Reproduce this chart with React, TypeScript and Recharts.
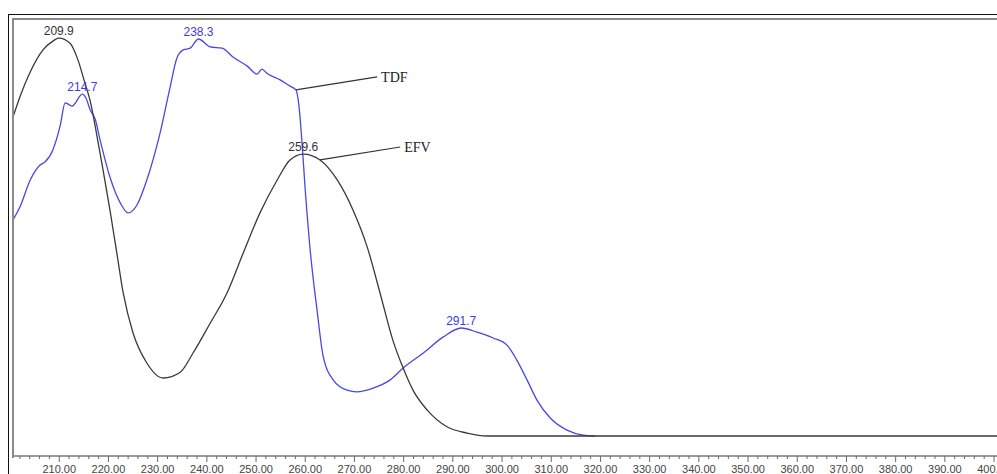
import { LineChart, Line, XAxis, YAxis, ReferenceDot, ReferenceLine } from "recharts"

// EFV spectrum (black trace): wavelength in nm, absorbance
const efvWl = [
  200.6, 202.0, 204.1, 206.7, 208.7, 209.9, 212.2, 213.8, 215.2, 216.3, 217.7, 218.9, 220.3, 221.7,
  223.0, 225.0, 227.8, 231.1, 234.6, 237.2, 240.7, 244.1, 247.4, 250.8, 254.3, 256.9, 259.6, 263.0,
  266.5, 269.7, 272.6, 275.2, 277.8, 279.9, 281.9, 284.8, 288.8, 292.9, 297.0, 320.0, 401.0,
]
const efvAbs = [
  0.765, 0.813, 0.873, 0.926, 0.947, 0.954, 0.942, 0.902, 0.847, 0.803, 0.717, 0.638, 0.542, 0.439,
  0.343, 0.247, 0.175, 0.139, 0.153, 0.199, 0.271, 0.343, 0.439, 0.535, 0.614, 0.662, 0.676, 0.662,
  0.614, 0.542, 0.453, 0.343, 0.23, 0.163, 0.11, 0.062, 0.022, 0.007, 0.0, 0.0, 0.0,
]

// TDF spectrum (blue trace)
const tdfWl = [
  200.6, 202.0, 204.1, 206.1, 207.1, 208.7, 210.2, 211.2, 211.8, 212.6, 214.7, 215.4, 216.3, 217.3,
  218.3, 220.3, 222.4, 224.0, 225.8, 227.8, 230.5, 232.5, 233.9, 235.2, 236.6, 238.3, 240.7, 243.1,
  245.3, 248.2, 250.2, 251.2, 252.2, 254.9, 256.9, 258.1, 258.7, 259.3, 260.0, 261.0, 262.4, 263.6,
  265.7, 268.5, 270.5, 273.8, 277.2, 279.9, 284.0, 288.0, 291.7, 294.9, 298.2, 301.0, 303.0, 305.1,
  307.1, 309.8, 313.2, 316.5, 318.9,
]
const tdfAbs = [
  0.518, 0.549, 0.614, 0.65, 0.657, 0.686, 0.745, 0.799, 0.796, 0.791, 0.82, 0.811, 0.782, 0.76,
  0.71, 0.621, 0.559, 0.535, 0.554, 0.614, 0.727, 0.835, 0.906, 0.926, 0.93, 0.952, 0.933, 0.93,
  0.909, 0.887, 0.868, 0.88, 0.87, 0.854, 0.839, 0.83, 0.794, 0.71, 0.59, 0.446, 0.302, 0.194,
  0.134, 0.11, 0.106, 0.115, 0.134, 0.163, 0.199, 0.237, 0.259, 0.249, 0.235, 0.218, 0.182, 0.134,
  0.086, 0.043, 0.014, 0.002, 0.0,
]

// labelled x-axis ticks (nm)
const tickLabels = [
  210, 220, 230, 240, 250, 260, 270, 280, 290, 300, 310, 320, 330, 340, 350, 360, 370, 380, 390, 400,
]

// peak maxima annotated above each trace
const peakLabels = [
  { series: "EFV", wl: 209.9 },
  { series: "TDF", wl: 214.7 },
  { series: "TDF", wl: 238.3 },
  { series: "EFV", wl: 259.6 },
  { series: "TDF", wl: 291.7 },
]

// leader lines naming each trace
const leaders = [
  { name: "TDF", from: [258.1, 0.83], to: [274.6, 0.861] },
  { name: "EFV", from: [263.0, 0.662], to: [279.3, 0.693] },
]

const BLACK = "#3a3a3a"
const BLUE = "#4848e4"

const efv = efvWl.map((wl, i) => ({ wl, a: efvAbs[i] }))
const tdf = tdfWl.map((wl, i) => ({ wl, a: tdfAbs[i] }))

// minor ticks every 2 nm, major ones carry the label
const allTicks: number[] = []
for (let t = 202; t <= 400; t += 2) allTicks.push(t)

function AxisTick({ x, y, payload }: any) {
  const major = tickLabels.includes(payload.value)
  return (
    <g>
      <line x1={x} x2={x} y1={y} y2={y + (major ? 6 : 3)} stroke="#6a6a6a" strokeWidth={1} />
      {major && (
        <text x={x} y={y + 17} textAnchor="middle" fontSize={11} fill="#444" fontFamily="Liberation Sans, Arial, sans-serif">
          {payload.value.toFixed(2)}
        </text>
      )}
    </g>
  )
}

function peakValue(series: string, wl: number) {
  const src = series === "EFV" ? efv : tdf
  return src.find((p) => p.wl === wl)?.a ?? 0
}

export default function App() {
  return (
    <div
      style={{
        position: "absolute",
        left: 0,
        top: 0,
        width: 997,
        height: 474,
        overflow: "hidden",
        background: "#fff",
        fontFamily: "Liberation Sans, Arial, sans-serif",
      }}
    >
      <div style={{ position: "absolute", left: 0, top: 0 }}>
        <LineChart width={1000} height={474} margin={{ top: 19, left: 13, right: 3, bottom: 0 }}>
          <XAxis
            type="number"
            dataKey="wl"
            domain={[200.6, 400.6]}
            allowDataOverflow
            ticks={allTicks}
            interval={0}
            tick={<AxisTick />}
            tickLine={false}
            tickSize={0}
            tickMargin={0}
            height={18}
            axisLine={{ stroke: "#7a7a7a", strokeWidth: 1.5 }}
          />
          <YAxis hide type="number" domain={[-0.048, 1]} allowDataOverflow />
          <Line
            data={tdf}
            dataKey="a"
            type="monotone"
            stroke={BLUE}
            strokeWidth={1.3}
            dot={false}
            isAnimationActive={false}
          />
          <Line
            data={efv}
            dataKey="a"
            type="monotone"
            stroke={BLACK}
            strokeWidth={1.3}
            dot={false}
            isAnimationActive={false}
          />
          {peakLabels.map((p) => (
            <ReferenceDot
              key={p.series + p.wl}
              x={p.wl}
              y={peakValue(p.series, p.wl)}
              r={0}
              fill="none"
              stroke="none"
              label={{
                value: p.wl.toFixed(1),
                position: "top",
                offset: 3,
                fontSize: 12,
                fill: p.series === "EFV" ? "#333" : "#3c3ce6",
              }}
            />
          ))}
          {leaders.map((l) => (
            <ReferenceLine
              key={l.name}
              segment={[
                { x: l.from[0], y: l.from[1] },
                { x: l.to[0], y: l.to[1] },
              ]}
              stroke="#333"
              strokeWidth={1.2}
            />
          ))}
          {leaders.map((l) => (
            <ReferenceDot
              key={l.name + "-text"}
              x={l.to[0]}
              y={l.to[1]}
              r={0}
              fill="none"
              stroke="none"
              label={{
                value: l.name,
                position: "right",
                offset: 4,
                fontSize: 14,
                fill: "#222",
                fontFamily: "Liberation Serif, Times New Roman, serif",
              }}
            />
          ))}
        </LineChart>
      </div>
      {/* outer black frame */}
      <div
        style={{
          position: "absolute",
          left: 8,
          top: 14,
          width: 1100,
          height: 600,
          borderLeft: "1px solid #111",
          borderTop: "1px solid #111",
        }}
      />
      {/* inner grey plot frame */}
      <div
        style={{
          position: "absolute",
          left: 12,
          top: 18,
          width: 1100,
          height: 438,
          borderLeft: "2px solid #8a8a8a",
          borderTop: "2px solid #8a8a8a",
        }}
      />
    </div>
  )
}
